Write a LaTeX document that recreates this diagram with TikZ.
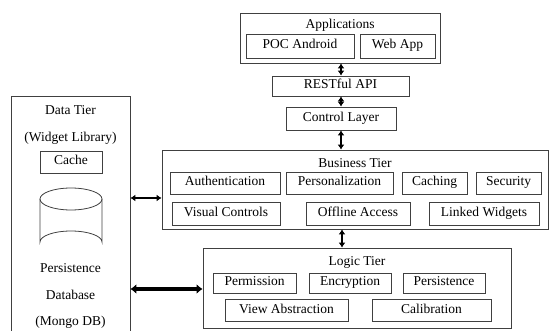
\documentclass[tikz,border=0pt]{standalone}
\usepackage{fontspec}
\setmainfont{Liberation Serif}
\usetikzlibrary{arrows.meta}

\tikzset{
  tier/.style={draw=black!75, line width=0.8pt, inner sep=0pt},
  item/.style={draw=black!75, line width=0.8pt, inner sep=0pt, text height=8pt, text depth=2pt},
  link/.style={{Latex[length=5pt,width=7pt]}-{Latex[length=5pt,width=7pt]}, line width=2.2pt},
  biglink/.style={{Latex[length=6pt,width=10pt]}-{Latex[length=6pt,width=10pt]}, line width=3.2pt},
}

\begin{document}
\begin{tikzpicture}[x=1pt, y=-1pt, font=\fontsize{13.5}{15}\selectfont]
    \useasboundingbox (0,0) rectangle (549,331);

    % Applications
    \node[tier, minimum width=200pt, minimum height=50pt] (apps) at (340,38) {};
    \node (appsT) at (340,25) {Applications};
    \node[item, minimum width=108pt, minimum height=24pt] (poc) at (300,46) {POC Android};
    \node[item, minimum width=75pt, minimum height=24pt] (web) at (397.5,46) {Web App};

    % RESTful API and control layer
    \node[item, minimum width=137pt, minimum height=20pt] (rest) at (340.5,86) {RESTful API};
    \node[item, minimum width=110pt, minimum height=23pt] (ctl) at (341,118.5) {Control Layer};

    % Business tier
    \node[tier, minimum width=386pt, minimum height=79pt] (biz) at (355,189.5) {};
    \node (bizT) at (355,163) {Business Tier};
    \node[item, minimum width=110pt, minimum height=22pt] (auth) at (225,183) {Authentication};
    \node[item, minimum width=107pt, minimum height=22pt] (pers) at (339.5,183) {Personalization};
    \node[item, minimum width=65pt, minimum height=22pt] (cach) at (434.5,183) {Caching};
    \node[item, minimum width=65pt, minimum height=22pt] (sec) at (508.5,183) {Security};
    \node[item, minimum width=108pt, minimum height=23pt] (vis) at (226,213.5) {Visual Controls};
    \node[item, minimum width=104pt, minimum height=23pt] (off) at (358,213.5) {Offline Access};
    \node[item, minimum width=110pt, minimum height=23pt] (lnk) at (484,213.5) {Linked Widgets};

    % Logic tier
    \node[tier, minimum width=308pt, minimum height=80pt] (logic) at (357,288) {};
    \node (logicT) at (357,262) {Logic Tier};
    \node[item, minimum width=83pt, minimum height=20pt] (perm) at (254.5,283) {Permission};
    \node[item, minimum width=82pt, minimum height=20pt] (enc) at (350,283) {Encryption};
    \node[item, minimum width=82pt, minimum height=20pt] (prs) at (444,283) {Persistence};
    \node[item, minimum width=123pt, minimum height=22pt] (view) at (286.5,310) {View Abstraction};
    \node[item, minimum width=119pt, minimum height=22pt] (cal) at (431.5,310) {Calibration};

    % Data tier
    \node[tier, minimum width=119pt, minimum height=240pt] (data) at (70.5,216) {};
    \node (dataT) at (70.5,110) {Data Tier};
    \node (wlib) at (70.5,138) {(Widget Library)};
    \node[item, minimum width=62pt, minimum height=22pt] (cache) at (71,162) {Cache};
    \draw[tier] (40,199) -- (40,242) arc[start angle=180, end angle=360, x radius=31, y radius=11] -- (102,199);
    \draw[tier] (71,199) ellipse [x radius=31, y radius=11];
    \node (persT) at (70.5,268) {Persistence};
    \node (dbT) at (70.5,295) {Database};
    \node (mongo) at (70.5,322) {(Mongo DB)};

    % Links
    \draw[link] (apps.south -| 341,0) -- (rest.north -| 341,0);
    \draw[link] (rest.south -| 341,0) -- (ctl.north -| 341,0);
    \draw[link] (ctl.south) -- (biz.north -| ctl.south);
    \draw[link] (biz.south -| 342,0) -- (logic.north -| 342,0);
    \draw[link] (data.east |- 0,198) -- (biz.west |- 0,198);
    \draw[biglink] (data.east |- 0,289) -- (logic.west |- 0,289);
\end{tikzpicture}
\end{document}
